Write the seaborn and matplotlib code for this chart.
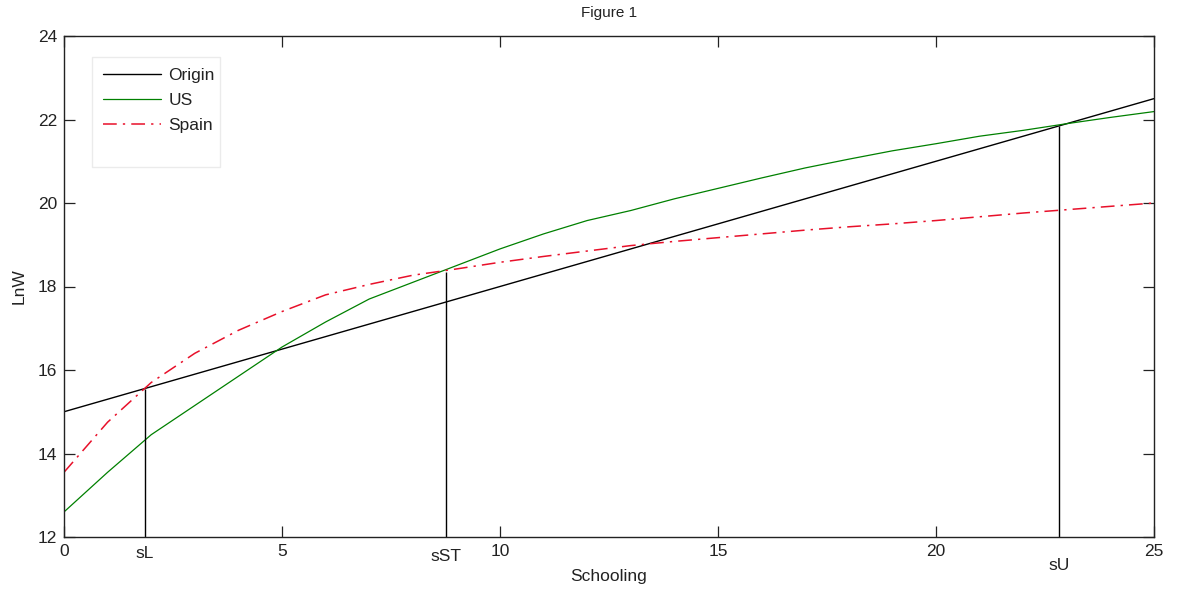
import matplotlib
matplotlib.use("Agg")
import matplotlib.pyplot as plt
import matplotlib.transforms as mtransforms
from matplotlib.patches import Rectangle
import seaborn as sns
import pandas as pd

# Datos
schooling = list(range(26))
us_lnw = [12.6, 13.55, 14.45, 15.15, 15.85, 16.55, 17.15, 17.7, 18.1, 18.5,
          18.9, 19.26, 19.58, 19.82, 20.1, 20.35, 20.6, 20.84, 21.05, 21.25,
          21.42, 21.6, 21.74, 21.9, 22.05, 22.19]
spain_lnw = [13.55, 14.75, 15.7, 16.4, 16.95, 17.4, 17.8, 18.05, 18.27, 18.42,
             18.58, 18.72, 18.85, 18.98, 19.08, 19.17, 19.26, 19.35, 19.43, 19.5,
             19.58, 19.67, 19.76, 19.84, 19.92, 20.0]
origin_x = [0, 5, 10, 15, 20, 25]
origin_lnw = [15.0, 16.5, 18.0, 19.5, 21.0, 22.5]

# Umbrales de escolaridad
cut_labels = ["sL", "sST", "sU"]
cut_x = [1.86, 8.75, 22.83]
cut_top = [15.55, 18.35, 21.85]
cut_label_offset = [-0.018, -0.024, -0.042]  # en fracción de ejes

xticks = [0, 5, 10, 15, 20, 25]
yticks = [12, 14, 16, 18, 20, 22, 24]

sns.set_style("white")
plt.rcParams["font.family"] = ["Liberation Sans", "DejaVu Sans"]
FS = 12.5
TXT = "#222222"

fig = plt.figure(figsize=(11.79, 5.93), dpi=100)
ax = fig.add_axes([64 / 1179, 56 / 593, 1090 / 1179, 501 / 593])

df_origin = pd.DataFrame({"Schooling": origin_x, "LnW": origin_lnw})
df_us = pd.DataFrame({"Schooling": schooling, "LnW": us_lnw})
df_spain = pd.DataFrame({"Schooling": schooling, "LnW": spain_lnw})

sns.lineplot(data=df_origin, x="Schooling", y="LnW", color="black", lw=1.0, label="Origin", ax=ax)
sns.lineplot(data=df_us, x="Schooling", y="LnW", color="#008000", lw=0.9, label="US", ax=ax)
sns.lineplot(data=df_spain, x="Schooling", y="LnW", color="#e8102a", lw=1.1,
             dashes=False, label="Spain", ax=ax)
ax.lines[-1].set_dashes([9, 4, 1.5, 4])

ax.vlines(cut_x, yticks[0], cut_top, colors="black", lw=1.0)
trans = mtransforms.blended_transform_factory(ax.transData, ax.transAxes)
for lab, xv, off in zip(cut_labels, cut_x, cut_label_offset):
    ax.text(xv, off, lab, transform=trans, ha="center", va="top", fontsize=FS, color=TXT)

ax.set_xlim(0, 25)
ax.set_ylim(12, 24)
ax.set_xticks(xticks)
ax.set_yticks(yticks)
ax.tick_params(direction="in", length=8, width=0.9, top=True, right=True,
               bottom=True, left=True, labelsize=FS, colors=TXT)
ax.tick_params(axis="x", pad=5)
ax.tick_params(axis="y", pad=5)
for sp in ax.spines.values():
    sp.set_visible(True)
    sp.set_color(TXT)
    sp.set_linewidth(1.0)

ax.set_xlabel("Schooling", fontsize=FS, color=TXT, labelpad=7)
ax.set_ylabel("LnW", fontsize=FS, color=TXT, labelpad=8)
ax.set_title("Figure 1", fontsize=11, color=TXT, pad=14)

# leyenda sin marco propio; caja tenue dibujada aparte (más alta, como en el original)
leg = ax.legend(loc="upper left", bbox_to_anchor=(0.036, 0.936), frameon=False,
                fontsize=FS, handlelength=3.3, handletextpad=0.45,
                labelspacing=0.55, borderpad=0.0, borderaxespad=0.0)
for t in leg.get_texts():
    t.set_color(TXT)
ax.add_patch(Rectangle((0.0257, 0.7385), 0.1174, 0.2196, transform=ax.transAxes,
                       fill=False, edgecolor="#ebebeb", lw=1.0, zorder=1))

plt.savefig("out.png", dpi=100)
plt.close()
